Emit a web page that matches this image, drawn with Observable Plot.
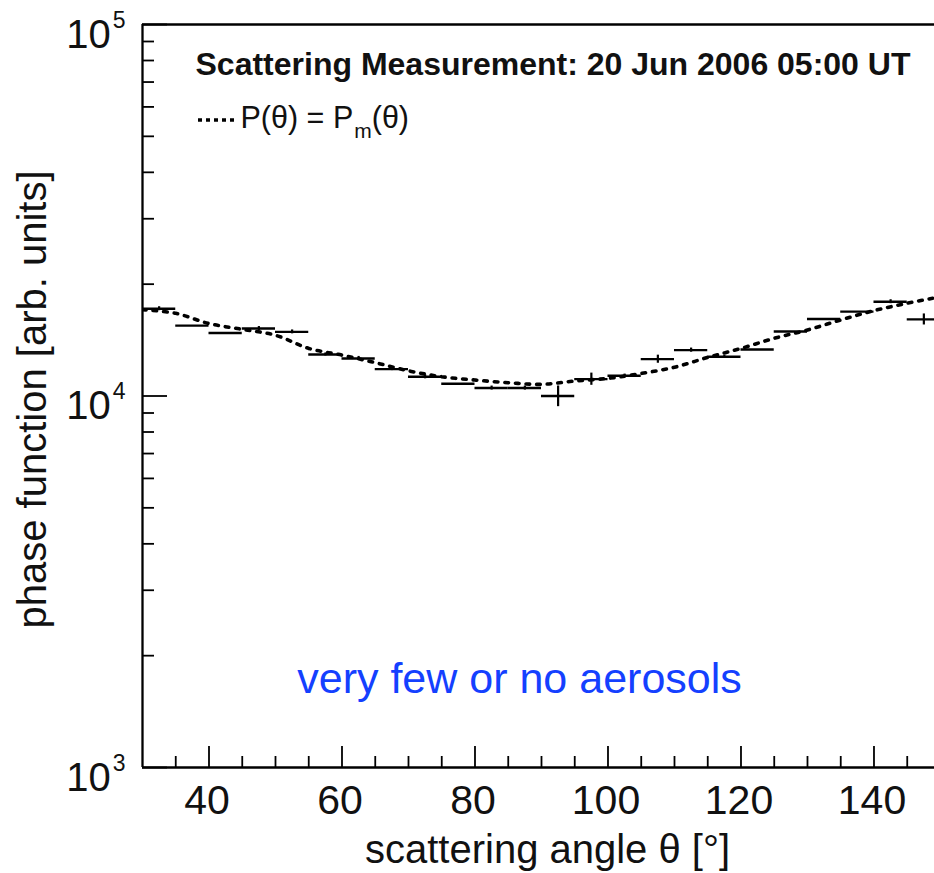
<!DOCTYPE html>
<html>
<head>
<meta charset="utf-8">
<script src="https://cdn.jsdelivr.net/npm/d3@7"></script>
<script src="https://cdn.jsdelivr.net/npm/@observablehq/plot@0.6"></script>
<style>
  html, body { margin: 0; padding: 0; background: #fff; overflow: hidden; }
</style>
</head>
<body>
<div id="chart"></div>
<script>
// Measured bins (scattering angle bin centres, width 5°)
const binCenters = [32.5, 37.5, 42.5, 47.5, 52.5, 57.5, 62.5, 67.5, 72.5, 77.5, 82.5, 87.5,
                    92.5, 97.5, 102.5, 107.5, 112.5, 117.5, 122.5, 127.5, 132.5, 137.5, 142.5, 147.5];
const binHalfWidth = 2.5;
const measured = [17180, 15470, 14780, 15190, 14880, 12935, 12620, 11815, 11265, 10790, 10505, 10505,
                  10000, 11105, 11335, 12565, 13290, 12750, 13345, 14910, 16115, 16870, 17940, 16080];
const measuredErr = [210, 0, 0, 190, 180, 120, 160, 110, 140, 0, 130, 130,
                     640, 420, 120, 315, 170, 110, 0, 0, 0, 0, 220, 550];

// Model curve P_m(theta)
const modelAngles = [30, 35, 40, 45, 50, 55, 60, 65, 70, 75, 80, 85, 90, 95, 100, 105, 110, 115, 120, 125, 130, 135, 140, 145, 150];
const modelValues = [17075, 16690, 15665, 15115, 14570, 13430, 12880, 12295, 11690, 11270, 11040, 10860, 10750,
                     10975, 11155, 11500, 11950, 12700, 13430, 14300, 15055, 16020, 16970, 17770, 18500];

// Axis ticks
const xMajorTicks = [40, 60, 80, 100, 120, 140];
const xMinorTicks = [35, 45, 50, 55, 65, 70, 75, 85, 90, 95, 105, 110, 115, 125, 130, 135, 145];
const yMajorTicks = [1e3, 1e4, 1e5];
const yMajorLabels = ["10^3", "10^4", "10^5"];
const yMinorTicks = [2e3, 3e3, 4e3, 5e3, 6e3, 7e3, 8e3, 9e3, 2e4, 3e4, 4e4, 5e4, 6e4, 7e4, 8e4, 9e4];

const titleText = "Scattering Measurement: 20 Jun 2006 05:00 UT";
const legendText = "P(θ) = P_m(θ)";
const noteText = "very few or no aerosols";
const xTitle = "scattering angle θ [°]";
const yTitle = "phase function [arb. units]";

const bins = binCenters.map((c, i) => ({c, lo: c - binHalfWidth, hi: c + binHalfWidth, v: measured[i], e: measuredErr[i]}));
const model = modelAngles.map((a, i) => ({a, v: modelValues[i]}));
const yLabels = yMajorTicks.map((v, i) => ({v, t: yMajorLabels[i]}));

const W = 934, H = 873, mL = 142, mR = 0, mT = 24, mB = 106;
const fw = W - mL - mR, fh = H - mT - mB;
const font = "'Liberation Sans', Arial, Helvetica, sans-serif";

const svg = Plot.plot({
  width: W, height: H,
  marginLeft: mL, marginRight: mR, marginTop: mT, marginBottom: mB,
  style: {fontFamily: font, background: "#fff", color: "#000", overflow: "hidden"},
  x: {type: "linear", domain: [30, 149.1], axis: null},
  y: {type: "log", domain: [1e3, 1e5], axis: null},
  marks: [
    // model curve
    Plot.line(model, {x: "a", y: "v", curve: "catmull-rom", stroke: "#000", strokeWidth: 3.6,
                      strokeDasharray: "3.6,7", clip: "frame"}),
    // measured bins: horizontal bin width + vertical error
    Plot.ruleY(bins, {x1: "lo", x2: "hi", y: "v", stroke: "#000", strokeWidth: 2.4, clip: "frame"}),
    Plot.ruleX(bins, {x: "c", y1: d => d.v - d.e, y2: d => d.v + d.e, stroke: "#000", strokeWidth: 2.2, clip: "frame"}),
    // frame lines (left, bottom, top)
    Plot.ruleX([30], {stroke: "#000", strokeWidth: 2.3}),
    Plot.ruleY([1e3], {stroke: "#000", strokeWidth: 2.3}),
    Plot.ruleY([1e5], {stroke: "#000", strokeWidth: 2.3}),
    // x ticks (inward)
    Plot.ruleX(xMajorTicks, {x: d => d, insetTop: fh - 21, stroke: "#000", strokeWidth: 1.8}),
    Plot.ruleX(xMinorTicks, {x: d => d, insetTop: fh - 11, stroke: "#000", strokeWidth: 1.8}),
    // y ticks (inward)
    Plot.ruleY(yMajorTicks, {y: d => d, insetRight: fw - 25, stroke: "#000", strokeWidth: 1.8}),
    Plot.ruleY(yMinorTicks, {y: d => d, insetRight: fw - 12, stroke: "#000", strokeWidth: 1.8}),
    // x tick labels
    Plot.text(xMajorTicks, {x: d => d, text: d => String(d), frameAnchor: "bottom", lineAnchor: "bottom",
                            textAnchor: "middle", dy: 46, dx: -2, fontSize: 41, fill: "#111"}),
    // y tick labels
    Plot.text(yLabels, {y: "v", text: "t", frameAnchor: "left", textAnchor: "end", lineAnchor: "bottom",
                        dx: -17, dy: 23, fontSize: 40, fill: "#111"}),
    // axis titles
    Plot.text([xTitle], {frameAnchor: "bottom", lineAnchor: "bottom", textAnchor: "middle",
                         dy: 95, dx: 9, fontSize: 40, fill: "#111"}),
    Plot.text([yTitle], {frameAnchor: "left", rotate: -90, lineAnchor: "bottom", textAnchor: "middle",
                         dx: -97, dy: 3.5, fontSize: 40, fill: "#111"}),
    // title / legend / note
    Plot.text([titleText], {frameAnchor: "top-left", textAnchor: "start", lineAnchor: "bottom",
                            dx: 53, dy: 50, fontSize: 32, fontWeight: "bold", fill: "#111"}),
    Plot.text([legendText], {frameAnchor: "top-left", textAnchor: "start", lineAnchor: "bottom",
                             dx: 98, dy: 103, fontSize: 30.5, fill: "#111"}),
    Plot.text([noteText], {frameAnchor: "bottom", lineAnchor: "bottom", textAnchor: "middle",
                           dx: -19, dy: -75, fontSize: 43, fill: "#1440ff"})
  ]
});

// superscripts / subscripts
svg.querySelectorAll("text").forEach(t => {
  const s = t.textContent;
  let m;
  const NS = "http://www.w3.org/2000/svg";
  const add = (str, attrs) => {
    const ts = document.createElementNS(NS, "tspan");
    ts.textContent = str;
    for (const k in attrs) ts.setAttribute(k, attrs[k]);
    t.appendChild(ts);
  };
  if ((m = s.match(/^(\d+)\^(\d+)$/))) {
    t.textContent = "";
    add(m[1], {});
    add(m[2], {"font-size": "23", dy: "-20", dx: "2"});
  } else if ((m = s.match(/^(.*)_(\w)(.*)$/))) {
    t.textContent = "";
    add(m[1], {});
    add(m[2], {"font-size": "21", dy: "10", dx: "1"});
    add(m[3], {dy: "-10"});
  }
});

// legend sample line
d3.select(svg).append("line")
  .attr("x1", 198).attr("x2", 234).attr("y1", 120).attr("y2", 120)
  .attr("stroke", "#000").attr("stroke-width", 3.6).attr("stroke-dasharray", "4,4");

document.getElementById("chart").appendChild(svg);
</script>
</body>
</html>
